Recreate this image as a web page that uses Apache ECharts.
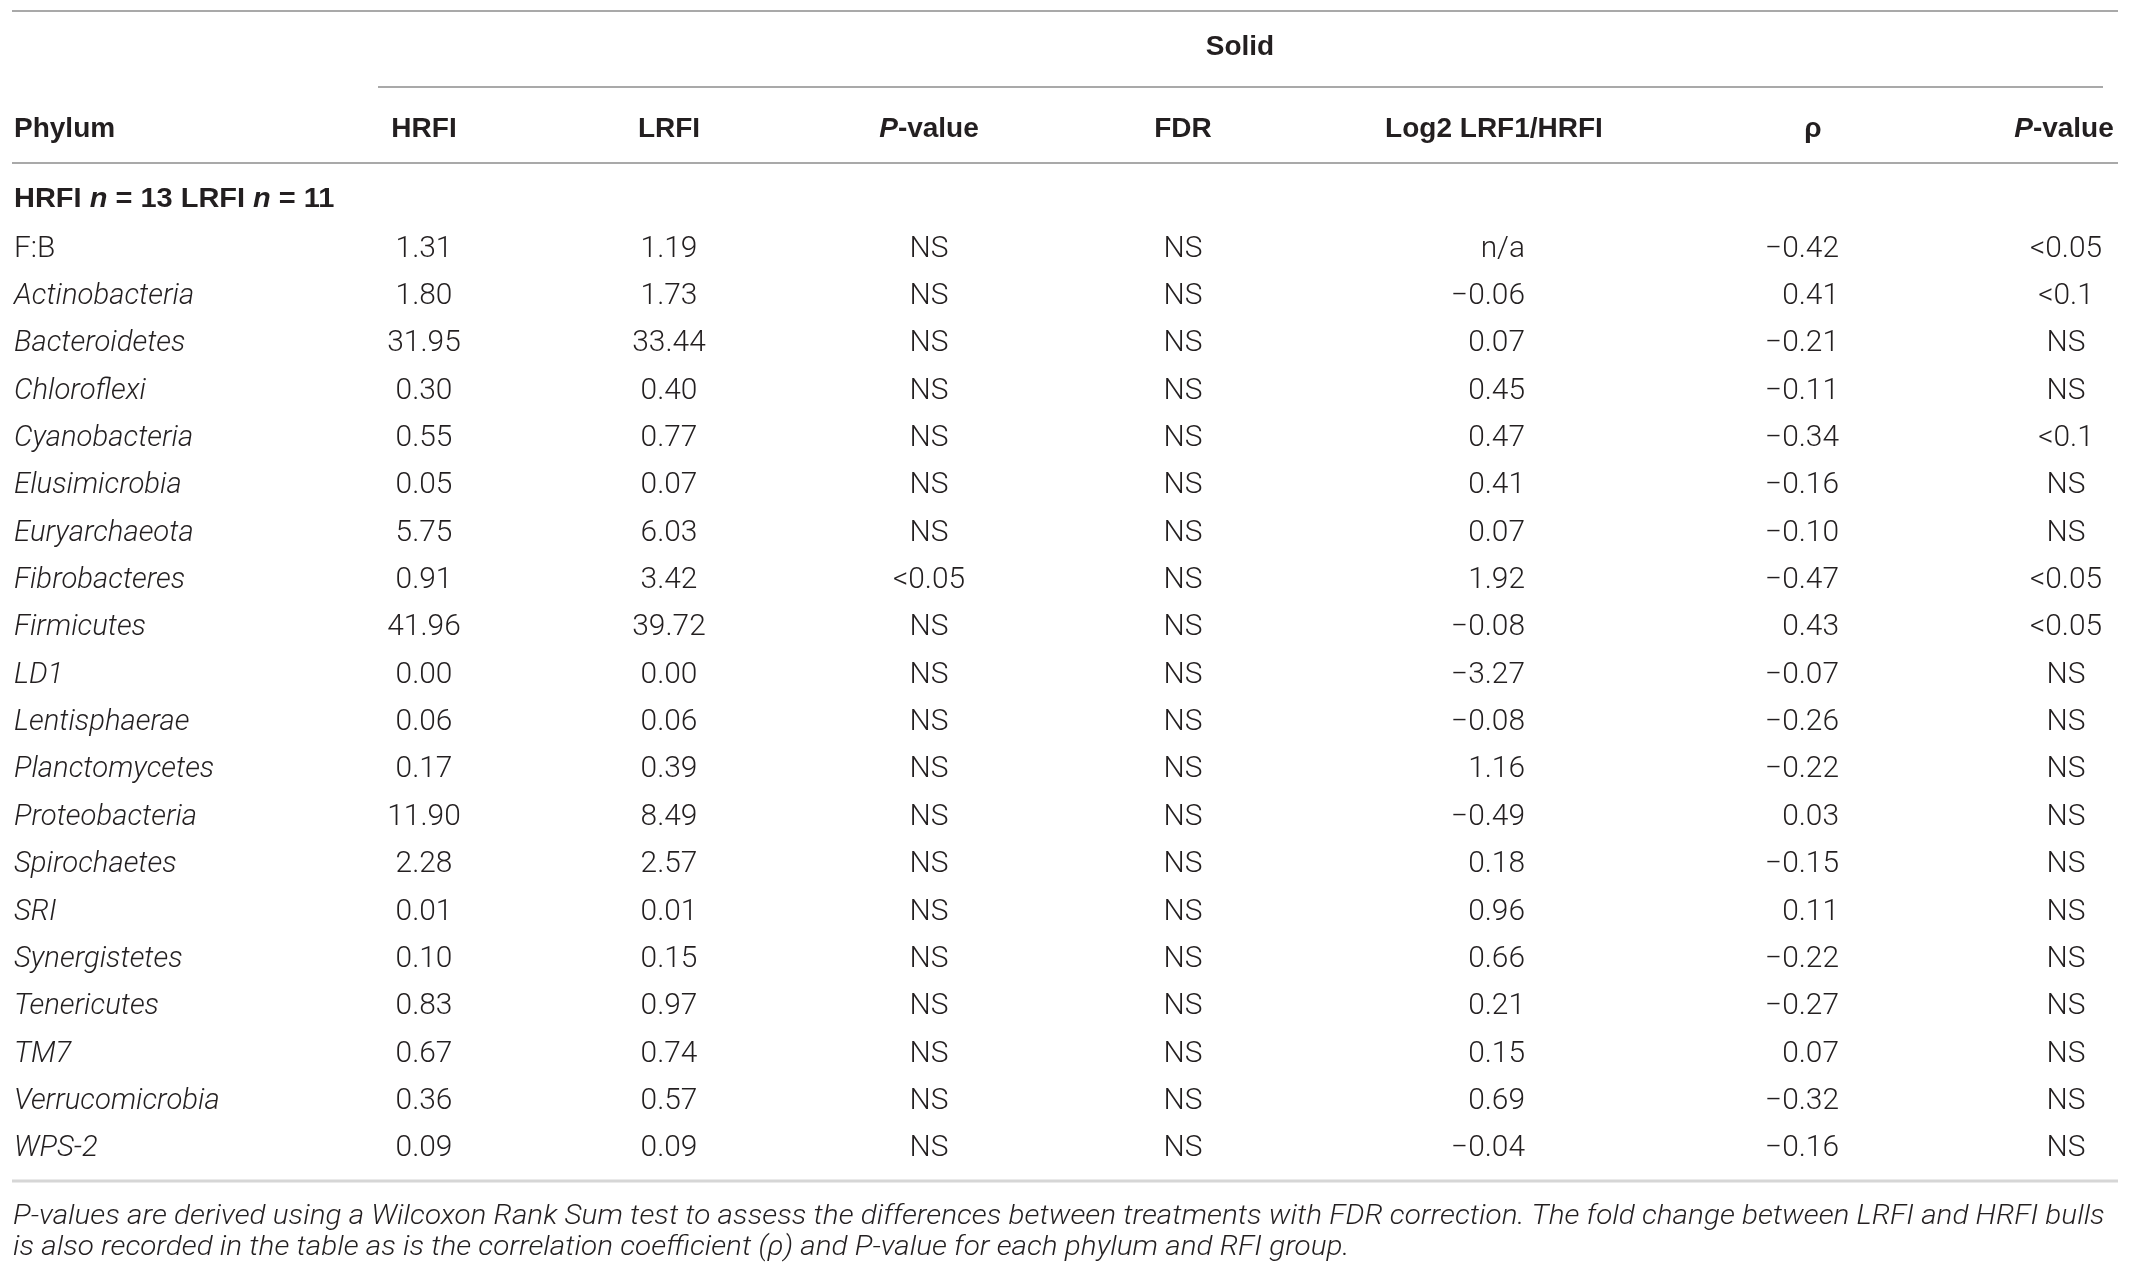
<!DOCTYPE html>
<html>
<head>
<meta charset="utf-8">
<title>Phylum table</title>
<script src="https://cdn.jsdelivr.net/npm/echarts@6.0.0/dist/echarts.min.js"></script>
<style>
  html, body { margin: 0; padding: 0; background: #fff; }
  #chart { width: 2130px; height: 1273px; }
</style>
</head>
<body>
<div id="chart"></div>
<script>
// table values, as printed
const phyla = ["F:B", "Actinobacteria", "Bacteroidetes", "Chloroflexi", "Cyanobacteria",
  "Elusimicrobia", "Euryarchaeota", "Fibrobacteres", "Firmicutes", "LD1", "Lentisphaerae",
  "Planctomycetes", "Proteobacteria", "Spirochaetes", "SRI", "Synergistetes", "Tenericutes",
  "TM7", "Verrucomicrobia", "WPS-2"];
const hrfi = ["1.31", "1.80", "31.95", "0.30", "0.55", "0.05", "5.75", "0.91", "41.96", "0.00",
  "0.06", "0.17", "11.90", "2.28", "0.01", "0.10", "0.83", "0.67", "0.36", "0.09"];
const lrfi = ["1.19", "1.73", "33.44", "0.40", "0.77", "0.07", "6.03", "3.42", "39.72", "0.00",
  "0.06", "0.39", "8.49", "2.57", "0.01", "0.15", "0.97", "0.74", "0.57", "0.09"];
const pRank = ["NS", "NS", "NS", "NS", "NS", "NS", "NS", "<0.05", "NS", "NS",
  "NS", "NS", "NS", "NS", "NS", "NS", "NS", "NS", "NS", "NS"];
const fdr = ["NS", "NS", "NS", "NS", "NS", "NS", "NS", "NS", "NS", "NS",
  "NS", "NS", "NS", "NS", "NS", "NS", "NS", "NS", "NS", "NS"];
const log2 = ["n/a", "−0.06", "0.07", "0.45", "0.47", "0.41", "0.07", "1.92", "−0.08", "−3.27",
  "−0.08", "1.16", "−0.49", "0.18", "0.96", "0.66", "0.21", "0.15", "0.69", "−0.04"];
const rho = ["−0.42", "0.41", "−0.21", "−0.11", "−0.34", "−0.16", "−0.10", "−0.47", "0.43", "−0.07",
  "−0.26", "−0.22", "0.03", "−0.15", "0.11", "−0.22", "−0.27", "0.07", "−0.32", "−0.16"];
const pRho = ["<0.05", "<0.1", "NS", "NS", "<0.1", "NS", "NS", "<0.05", "<0.05", "NS",
  "NS", "NS", "NS", "NS", "NS", "NS", "NS", "NS", "NS", "NS"];

const spanTitle = "Solid";
const headers = ["Phylum", "HRFI", "LRFI", "{bi|P}{b|-value}", "FDR", "Log2 LRF1/HRFI", "ρ", "{bi|P}{b|-value}"];
const groupLabel = "{b|HRFI }{bi|n}{b| = 13 LRFI }{bi|n}{b| = 11}";
const footnote = [
  "P-values are derived using a Wilcoxon Rank Sum test to assess the differences between treatments with FDR correction. The fold change between LRFI and HRFI bulls",
  "is also recorded in the table as is the correlation coefficient (ρ) and P-value for each phylum and RFI group."
];

// layout: x in page units, y in row units (row 0 = group label, rows 1..20 = phyla)
const PITCH = 47.35;
const FIRST_ROW = 198;
const HEAD_X = [14, 424, 669, 929, 1183, 1494, 1813, 2064];
const CELL_X = [14, 424, 669, 929, 1183, 1525, 1839, 2066];
const CELL_ALIGN = ["left", "center", "center", "center", "center", "right", "right", "center"];
const Y_TOP_RULE = -3.95, Y_SPAN = -3.21, Y_SPAN_RULE = -2.344, Y_HEAD = -1.478, Y_HEAD_RULE = -0.739;
const Y_BOTTOM_RULE = 20.76, Y_NOTE = [21.45, 22.1];

const BODY_FONT = "Roboto, 'Liberation Sans', sans-serif";
const BOLD_FONT = "'Liberation Sans', Arial, sans-serif";
const INK = "#231f20";

const cells = [];
const cols = [hrfi, lrfi, pRank, fdr, log2, rho, pRho];
cells.push({ x: 1240, y: Y_SPAN, text: spanTitle, kind: "head", align: "center" });
headers.forEach((h, c) => cells.push({ x: HEAD_X[c], y: Y_HEAD, text: h, kind: "head", align: c === 0 ? "left" : "center" }));
cells.push({ x: CELL_X[0], y: 0, text: groupLabel, kind: "group", align: "left" });
phyla.forEach((name, i) => {
  cells.push({ x: CELL_X[0], y: i + 1, text: name, kind: name === "F:B" ? "name" : "italic", align: "left" });
  cols.forEach((col, c) => cells.push({ x: CELL_X[c + 1], y: i + 1, text: col[i], kind: "body", align: CELL_ALIGN[c + 1] }));
});
Y_NOTE.forEach((y, k) => cells.push({ x: 13, y, text: footnote[k], kind: "note", align: "left" }));

const rules = [
  { x1: 12, x2: 2118, y: Y_TOP_RULE, color: "#a9a9a9", w: 2 },
  { x1: 378, x2: 2103, y: Y_SPAN_RULE, color: "#a9a9a9", w: 2 },
  { x1: 12, x2: 2118, y: Y_HEAD_RULE, color: "#a9a9a9", w: 2 },
  { x1: 12, x2: 2118, y: Y_BOTTOM_RULE, color: "#d6d6d6", w: 3 }
];

const rich = {
  b: { fontFamily: BOLD_FONT, fontWeight: "bold", fontSize: 28, fill: INK },
  bi: { fontFamily: BOLD_FONT, fontWeight: "bold", fontStyle: "italic", fontSize: 28, fill: INK }
};

// font, horizontal stretch and small vertical nudge per kind of cell
function textLook(c) {
  const s = { text: c.text, align: c.align, verticalAlign: "middle", fill: INK };
  let sx = 1;
  let dy = 4;
  if (c.kind === "head" || c.kind === "group") {
    Object.assign(s, { fontFamily: BOLD_FONT, fontWeight: "bold", fontSize: 28, rich });
    if (c.kind === "group") sx = 1.035;
    dy = 1.5;
  } else if (c.kind === "note") {
    Object.assign(s, { fontFamily: BODY_FONT, fontWeight: 300, fontStyle: "italic", fontSize: 27 });
    sx = 1.1;
  } else if (c.kind === "italic") {
    Object.assign(s, { fontFamily: BODY_FONT, fontWeight: 300, fontStyle: "italic", fontSize: 29 });
    sx = 1.01;
  } else {
    Object.assign(s, { fontFamily: BODY_FONT, fontWeight: 300, fontSize: 29 });
    sx = 1.03;
  }
  return { style: s, scaleX: sx, dy };
}

const chart = echarts.init(document.getElementById("chart"), null, { renderer: "canvas" });
chart.setOption({
  animation: false,
  backgroundColor: "#fff",
  grid: { left: 0, right: 0, top: 0, bottom: 0 },
  xAxis: { type: "value", min: 0, max: 2130, show: false },
  yAxis: { type: "value", inverse: true, min: -FIRST_ROW / PITCH, max: (1273 - FIRST_ROW) / PITCH, show: false },
  series: [
    {
      type: "custom",
      name: "rules",
      silent: true,
      data: rules.map((r) => [r.x1, r.y, r.x2]),
      renderItem(params, api) {
        const r = rules[params.dataIndex];
        const a = api.coord([r.x1, r.y]);
        const b = api.coord([r.x2, r.y]);
        return { type: "line", shape: { x1: a[0], y1: a[1], x2: b[0], y2: b[1] }, style: { stroke: r.color, lineWidth: r.w } };
      }
    },
    {
      type: "custom",
      name: "cells",
      silent: true,
      data: cells.map((c) => [c.x, c.y]),
      renderItem(params, api) {
        const c = cells[params.dataIndex];
        const p = api.coord([c.x, c.y]);
        const look = textLook(c);
        return { type: "text", x: p[0], y: p[1] + look.dy, scaleX: look.scaleX, style: look.style };
      }
    }
  ]
});
window.addEventListener("resize", () => chart.resize());
</script>
</body>
</html>
